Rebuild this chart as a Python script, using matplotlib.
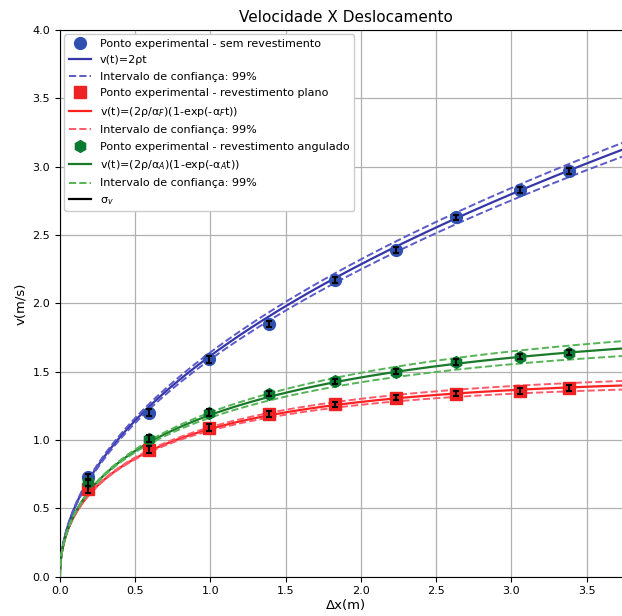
import numpy as np
import matplotlib
matplotlib.use("Agg")
import matplotlib.pyplot as plt

# measured points (x in m, v in m/s)
dx = [0.19, 0.59, 0.99, 1.39, 1.83, 2.23, 2.63, 3.06, 3.38]
v_sem = [0.73, 1.20, 1.59, 1.85, 2.17, 2.39, 2.63, 2.83, 2.97]
v_plano = [0.64, 0.93, 1.09, 1.19, 1.26, 1.31, 1.34, 1.36, 1.38]
v_ang = [0.69, 1.01, 1.20, 1.34, 1.43, 1.50, 1.57, 1.61, 1.64]
sigma_v = [0.025, 0.025, 0.025, 0.02, 0.02, 0.02, 0.02, 0.02, 0.02]

# fitted parameters
rho = 0.653
rho_ci = (0.632, 0.674)
alpha_p = 0.898
alpha_p_ci = (0.872, 0.922)
alpha_a = 0.706
alpha_a_ci = (0.672, 0.742)

t = np.linspace(0, 8, 2000)


def free(r):
    return r * t ** 2, 2 * r * t


def drag(r, a):
    v = (2 * r / a) * (1 - np.exp(-a * t))
    x = (2 * r / a) * (t - (1 - np.exp(-a * t)) / a)
    return x, v


fig = plt.figure(figsize=(6.22, 6.16), dpi=100)
ax = fig.add_axes([0.0963, 0.0638, 0.9195, 0.8875])

blue_pt, blue_ln, blue_ci = "#3050b0", "#3636a8", "#5a5ac8"
red_pt, red_ln, red_ci = "#ee2222", "#ff2020", "#ff5a6a"
green_pt, green_ln, green_ci = "#0a7a30", "#1a7a2a", "#55b455"

ax.plot(dx, v_sem, "o", color=blue_pt, ms=8.5, label="Ponto experimental - sem revestimento", zorder=4)
x, v = free(rho)
ax.plot(x, v, color=blue_ln, lw=1.6, label="v(t)=2ρt", zorder=3)
for i, r in enumerate(rho_ci):
    x, v = free(r)
    ax.plot(x, v, "--", color=blue_ci, lw=1.4, label="Intervalo de confiança: 99%" if i == 0 else None, zorder=3)

ax.plot(dx, v_plano, "s", color=red_pt, ms=9, label="Ponto experimental - revestimento plano", zorder=4)
x, v = drag(rho, alpha_p)
ax.plot(x, v, color=red_ln, lw=1.6, label="v(t)=(2ρ/α$_F$)(1-exp(-α$_F$t))", zorder=3)
for i, a in enumerate(alpha_p_ci):
    x, v = drag(rho, a)
    ax.plot(x, v, "--", color=red_ci, lw=1.4, label="Intervalo de confiança: 99%" if i == 0 else None, zorder=3)

ax.plot(dx, v_ang, "h", color=green_pt, ms=8.5, label="Ponto experimental - revestimento angulado", zorder=4)
x, v = drag(rho, alpha_a)
ax.plot(x, v, color=green_ln, lw=1.6, label="v(t)=(2ρ/α$_A$)(1-exp(-α$_A$t))", zorder=3)
for i, a in enumerate(alpha_a_ci):
    x, v = drag(rho, a)
    ax.plot(x, v, "--", color=green_ci, lw=1.4, label="Intervalo de confiança: 99%" if i == 0 else None, zorder=3)

for vals in (v_sem, v_plano, v_ang):
    ax.errorbar(dx, vals, yerr=sigma_v, fmt="none", ecolor="black", elinewidth=1.5, capsize=2.5, capthick=1.5, zorder=5)
ax.plot([], [], color="black", lw=1.6, label="σ$_v$")

ax.set_xlim(0, 3.8)
ax.set_ylim(0, 4.0)
ax.set_xticks(np.arange(0, 3.51, 0.5))
ax.set_yticks(np.arange(0, 4.01, 0.5))
ax.tick_params(labelsize=8)
ax.grid(True, color="#b0b0b0", lw=0.9)
ax.set_axisbelow(True)
ax.set_xlabel("Δx(m)", fontsize=9.5, labelpad=2)
ax.set_ylabel("v(m/s)", fontsize=9.5)
ax.set_title("Velocidade X Deslocamento", fontsize=11)
ax.legend(loc="upper left", fontsize=8, labelspacing=0.58, borderaxespad=0.4, framealpha=1.0)

fig.savefig("out.png", dpi=100)
